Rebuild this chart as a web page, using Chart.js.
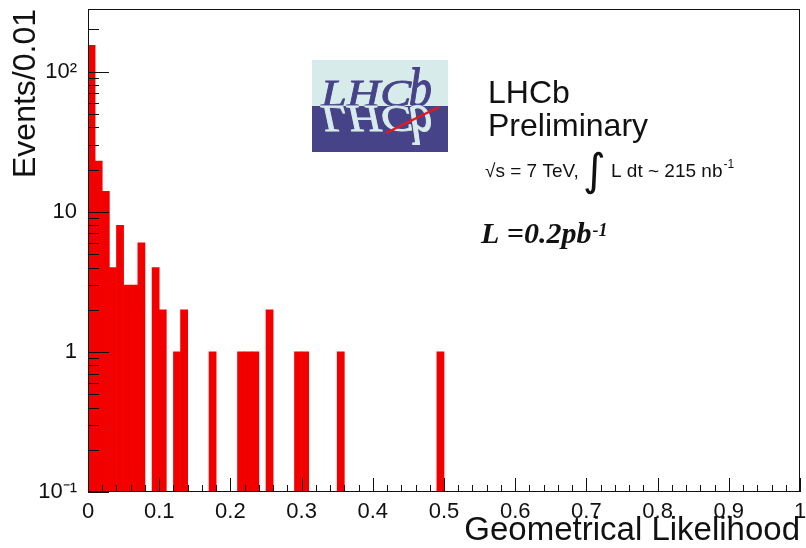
<!DOCTYPE html>
<html>
<head>
<meta charset="utf-8">
<script src="https://cdn.jsdelivr.net/npm/chart.js@4.4.1/dist/chart.umd.min.js"></script>
<style>
  html, body { margin: 0; padding: 0; background: #fff; }
</style>
</head>
<body>
<canvas id="chart" width="806" height="548"></canvas>
<script>
// Geometrical likelihood, 100 bins of width 0.01 on [0, 1]
const binWidth = 0.01;
const events = [
  154, 23, 14, 4, 8, 3, 3, 6, 0, 4,
  2, 0, 1, 2, 0, 0, 0, 1, 0, 0,
  0, 1, 1, 1, 0, 2, 0, 0, 0, 1,
  1, 0, 0, 0, 0, 1, 0, 0, 0, 0,
  0, 0, 0, 0, 0, 0, 0, 0, 0, 1,
  0, 0, 0, 0, 0, 0, 0, 0, 0, 0,
  0, 0, 0, 0, 0, 0, 0, 0, 0, 0,
  0, 0, 0, 0, 0, 0, 0, 0, 0, 0,
  0, 0, 0, 0, 0, 0, 0, 0, 0, 0,
  0, 0, 0, 0, 0, 0, 0, 0, 0, 0
];

const xTickValues = [0, 0.1, 0.2, 0.3, 0.4, 0.5, 0.6, 0.7, 0.8, 0.9, 1];
const xTickLabels = ['0', '0.1', '0.2', '0.3', '0.4', '0.5', '0.6', '0.7', '0.8', '0.9', '1'];
const yTickValues = [0.1, 1, 10, 100];
const yTickLabels = ['10\u207B\u00B9', '1', '10', '10\u00B2'];

const FONT = '"Liberation Sans", Arial, Helvetica, sans-serif';
const SERIF = '"Liberation Serif", "Times New Roman", serif';
const INK = '#111';

const bins = events.map((n, i) => ({ x: (i + 0.5) * binWidth, y: n > 0 ? n : null }));

function labelFor(values, labels, v) {
  const i = values.findIndex(t => Math.abs(t - v) < 1e-6 * Math.max(1, Math.abs(t)));
  return i >= 0 ? labels[i] : '';
}

// ROOT style ticks: pointing inward, long on labelled values
const insideTicks = {
  id: 'insideTicks',
  afterDatasetsDraw(chart) {
    const { ctx, chartArea: a, scales: { x, y } } = chart;
    ctx.save();
    ctx.strokeStyle = INK;
    ctx.lineWidth = 1;
    ctx.beginPath();
    x.ticks.forEach(t => {
      const px = Math.round(x.getPixelForValue(t.value)) + 0.5;
      const len = t.label ? 14 : 7;
      ctx.moveTo(px, a.bottom);
      ctx.lineTo(px, a.bottom - len);
    });
    y.ticks.forEach(t => {
      const py = Math.round(y.getPixelForValue(t.value)) + 0.5;
      const len = t.label ? 21 : 11;
      ctx.moveTo(a.left, py);
      ctx.lineTo(a.left + len, py);
    });
    ctx.stroke();
    ctx.strokeRect(a.left + 0.5, a.top + 0.5, a.width - 1, a.height - 1);
    ctx.restore();
  }
};

// experiment logo and luminosity text
const lhcbLabel = {
  id: 'lhcbLabel',
  afterDraw(chart) {
    const ctx = chart.ctx;
    ctx.save();

    // logo block
    ctx.fillStyle = '#d7ebea';
    ctx.fillRect(312, 60, 136, 46);
    ctx.fillStyle = '#474389';
    ctx.fillRect(312, 106, 136, 46);

    ctx.font = 'italic 38px ' + SERIF;
    const lhcW = ctx.measureText('LHC').width;
    const drawLogoWord = (flip, colour) => {
      ctx.save();
      ctx.fillStyle = colour;
      ctx.strokeStyle = colour;
      ctx.lineWidth = 0.8;
      ctx.translate(321, 106);
      ctx.scale(1.22, flip);
      ctx.fillText('LHC', 0, 0);
      ctx.strokeText('LHC', 0, 0);
      ctx.translate(lhcW - 2, 0);
      ctx.scale(1, 1.45);
      ctx.fillText('b', 0, 0);
      ctx.strokeText('b', 0, 0);
      ctx.restore();
    };
    drawLogoWord(1, '#474389');
    drawLogoWord(-1, '#d7ebea');

    ctx.strokeStyle = '#e8161d';
    ctx.lineWidth = 2.5;
    ctx.beginPath();
    ctx.moveTo(386, 133);
    ctx.lineTo(439, 107);
    ctx.stroke();

    // text block
    ctx.fillStyle = INK;
    ctx.textBaseline = 'alphabetic';
    ctx.font = '32px ' + FONT;
    ctx.fillText('LHCb', 488, 103);
    ctx.fillText('Preliminary', 488, 136);

    ctx.font = '19px ' + FONT;
    ctx.fillText('\u221As = 7 TeV,', 485, 177);
    ctx.font = '44px "DejaVu Sans", sans-serif';
    ctx.fillText('\u222B', 583, 185);
    ctx.font = '19px ' + FONT;
    ctx.fillText('L dt ~ 215 nb', 611, 177);
    const nbW = ctx.measureText('L dt ~ 215 nb').width;
    ctx.font = '12px ' + FONT;
    ctx.fillText('-1', 611 + nbW + 1, 168);

    ctx.font = 'italic bold 30px ' + SERIF;
    ctx.fillText('L =0.2pb', 481, 243);
    const lW = ctx.measureText('L =0.2pb').width;
    ctx.font = 'italic bold 18px ' + SERIF;
    ctx.fillText('-1', 481 + lW + 1, 236);

    ctx.restore();
  }
};

new Chart(document.getElementById('chart'), {
  type: 'bar',
  data: {
    datasets: [{
      label: 'Events',
      data: bins,
      backgroundColor: '#f20000',
      borderWidth: 0,
      categoryPercentage: 1,
      barPercentage: 1
    }]
  },
  options: {
    responsive: false,
    animation: false,
    layout: { padding: { top: 9, right: 6, left: 0, bottom: 0 } },
    plugins: { legend: { display: false }, tooltip: { enabled: false } },
    scales: {
      x: {
        type: 'linear',
        min: 0,
        max: 1,
        offset: false,
        grid: { display: false, drawTicks: false },
        border: { display: false },
        ticks: {
          stepSize: 0.02,
          autoSkip: false,
          maxRotation: 0,
          padding: 7,
          color: INK,
          font: { family: FONT, size: 22 },
          callback: v => labelFor(xTickValues, xTickLabels, v)
        },
        title: {
          display: true,
          text: 'Geometrical Likelihood',
          align: 'end',
          color: INK,
          font: { family: FONT, size: 33 },
          padding: { top: 0, bottom: -3 }
        },
        afterFit(scale) {
          scale.height = 56;
          scale.paddingLeft = 0;
          scale.paddingRight = 0;
        }
      },
      y: {
        type: 'logarithmic',
        min: 0.1,
        max: 280,
        grid: { display: false, drawTicks: false },
        border: { display: false },
        afterBuildTicks(scale) {
          scale.ticks = scale.ticks.filter(t => {
            const e = Math.floor(Math.log10(t.value) + 1e-9);
            const s = t.value / Math.pow(10, e);
            return Math.abs(s - Math.round(s)) < 1e-6;
          });
        },
        ticks: {
          autoSkip: false,
          padding: 11,
          color: INK,
          font: { family: FONT, size: 22 },
          callback: v => labelFor(yTickValues, yTickLabels, v)
        },
        title: {
          display: true,
          text: 'Events/0.01',
          align: 'end',
          color: INK,
          font: { family: FONT, size: 32 },
          padding: { top: 7, bottom: 0 }
        },
        afterFit(scale) {
          scale.width = 88;
          scale.paddingTop = 0;
          scale.paddingBottom = 0;
        }
      }
    }
  },
  plugins: [insideTicks, lhcbLabel]
});
</script>
</body>
</html>
